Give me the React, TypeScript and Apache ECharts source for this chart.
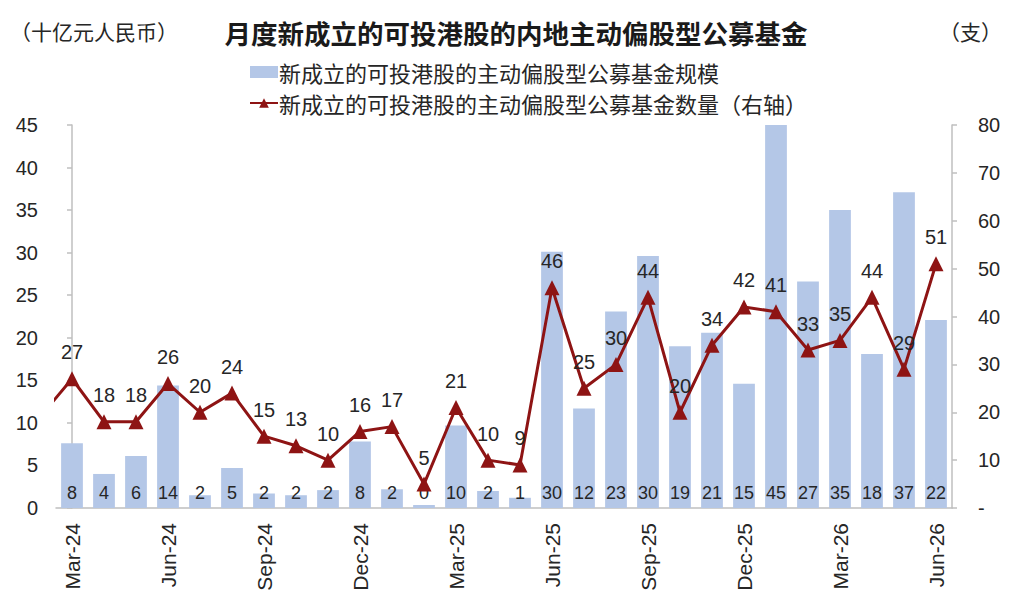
import React, { useEffect, useRef } from "react";
import * as echarts from "echarts";

const categories = [
  "Mar-24", "Apr-24", "May-24", "Jun-24", "Jul-24", "Aug-24", "Sep-24", "Oct-24", "Nov-24", "Dec-24",
  "Jan-25", "Feb-25", "Mar-25", "Apr-25", "May-25", "Jun-25", "Jul-25", "Aug-25", "Sep-25", "Oct-25",
  "Nov-25", "Dec-25", "Jan-26", "Feb-26", "Mar-26", "Apr-26", "May-26", "Jun-26",
];

// 规模 (十亿元人民币)
const scaleValues = [
  7.6, 4.0, 6.1, 14.4, 1.5, 4.7, 1.7, 1.5, 2.1, 7.8,
  2.2, 0.35, 9.7, 2.0, 1.2, 30.1, 11.7, 23.1, 29.6, 19.0,
  20.6, 14.6, 45, 26.6, 35.0, 18.1, 37.1, 22.1,
];

// 数量 (支)
const countValues = [
  27, 18, 18, 26, 20, 24, 15, 13, 10, 16,
  17, 5, 21, 10, 9, 46, 25, 30, 44, 20,
  34, 42, 41, 33, 35, 44, 29, 51,
];
// value of the month before Mar-24 (only its segment enters the plot)
const priorCount = 19;

const leftTicks = { min: 0, max: 45, interval: 5 };
const rightTicks = { min: 0, max: 80, interval: 10 };

const barName = "新成立的可投港股的主动偏股型公募基金规模";
const lineName = "新成立的可投港股的主动偏股型公募基金数量（右轴）";
const titleText = "月度新成立的可投港股的内地主动偏股型公募基金";
const leftUnit = "（十亿元人民币）";
const rightUnit = "（支）";

const BAR = "#b4c7e7";
const LINE = "#8e1414";
const TXT = "#262626";
const AXIS = "#bfbfbf";
const FONT = "'Liberation Sans', Arial, 'Noto Sans CJK SC', sans-serif";
const CJK = "'Noto Sans CJK SC', 'Liberation Sans', sans-serif";

export default function App() {
  const ref = useRef<HTMLDivElement>(null);
  useEffect(() => {
    if (!ref.current) return;
    const chart = echarts.init(ref.current, undefined, { renderer: "svg" });
    const lineData: any[] = [
      { value: [-1, priorCount], symbol: "none", label: { show: false } },
      ...countValues.map((v, i) => [i, v]),
    ];
    chart.setOption({
      animation: false,
      backgroundColor: "#ffffff",
      textStyle: { fontFamily: FONT },
      title: {
        text: titleText,
        left: 511,
        textAlign: "center",
        top: 14,
        textStyle: { fontFamily: CJK, fontSize: 26.5, fontWeight: "bold", color: "#1a1a1a" },
      },
      graphic: [
        {
          type: "text",
          left: 10,
          top: 20,
          style: { text: leftUnit, fontFamily: CJK, fontSize: 21, fill: TXT },
        },
        {
          type: "text",
          right: 22,
          top: 20,
          style: { text: rightUnit, fontFamily: CJK, fontSize: 21, fill: TXT },
        },
      ],
      legend: {
        orient: "vertical",
        left: 244,
        top: 56,
        itemGap: 9,
        itemWidth: 28,
        itemHeight: 12,
        textStyle: { fontFamily: CJK, fontSize: 22, color: TXT, padding: [0, 0, 0, -4] },
        data: [
          { name: barName, icon: "rect" },
          { name: lineName },
        ],
      },
      grid: { left: 56, right: 72, top: 125, bottom: 97, containLabel: false },
      xAxis: [
        {
          type: "category",
          data: categories,
          boundaryGap: true,
          axisLine: { lineStyle: { color: AXIS, width: 1.5 } },
          axisTick: { interval: 2, length: 6, lineStyle: { color: AXIS, width: 1.5 } },
          axisLabel: {
            interval: 2,
            rotate: 90,
            margin: 15,
            fontSize: 21,
            color: TXT,
            fontFamily: FONT,
          },
        },
        {
          type: "value",
          min: -0.5,
          max: 27.5,
          show: false,
        },
      ],
      yAxis: [
        {
          type: "value",
          ...leftTicks,
          position: "left",
          splitLine: { show: false },
          axisLine: { show: true, lineStyle: { color: AXIS, width: 1.5 } },
          axisTick: { show: true, inside: false, length: 5, lineStyle: { color: AXIS, width: 1.5 } },
          axisLabel: { fontSize: 20, color: TXT, margin: 18, fontFamily: FONT },
        },
        {
          type: "value",
          ...rightTicks,
          position: "right",
          splitLine: { show: false },
          axisLine: { show: true, lineStyle: { color: AXIS, width: 1.5 } },
          axisTick: { show: true, length: 5, lineStyle: { color: AXIS, width: 1.5 } },
          axisLabel: {
            fontSize: 20,
            color: TXT,
            margin: 26,
            fontFamily: FONT,
            formatter: (v: number) => (v === 0 ? "-" : String(v)),
          },
        },
      ],
      series: [
        {
          name: barName,
          type: "bar",
          xAxisIndex: 0,
          yAxisIndex: 0,
          data: scaleValues,
          barWidth: "68%",
          itemStyle: { color: BAR },
          label: {
            show: true,
            position: "insideBottom",
            distance: 6,
            fontSize: 18,
            color: TXT,
            fontFamily: FONT,
            formatter: (p: any) => String(Math.round(p.value)),
          },
          z: 1,
        },
        {
          name: lineName,
          type: "line",
          xAxisIndex: 1,
          yAxisIndex: 1,
          data: lineData,
          clip: true,
          symbol: "triangle",
          symbolSize: 15,
          lineStyle: { color: LINE, width: 3 },
          itemStyle: { color: LINE },
          label: {
            show: true,
            position: "top",
            distance: 9,
            fontSize: 20,
            color: TXT,
            fontFamily: FONT,
            formatter: (p: any) => String(p.value[1]),
          },
          z: 3,
        },
      ],
    });
    return () => chart.dispose();
  }, []);
  return (
    <div
      ref={ref}
      style={{ position: "fixed", left: 0, top: 0, width: 1024, height: 605, background: "#fff" }}
    />
  );
}
